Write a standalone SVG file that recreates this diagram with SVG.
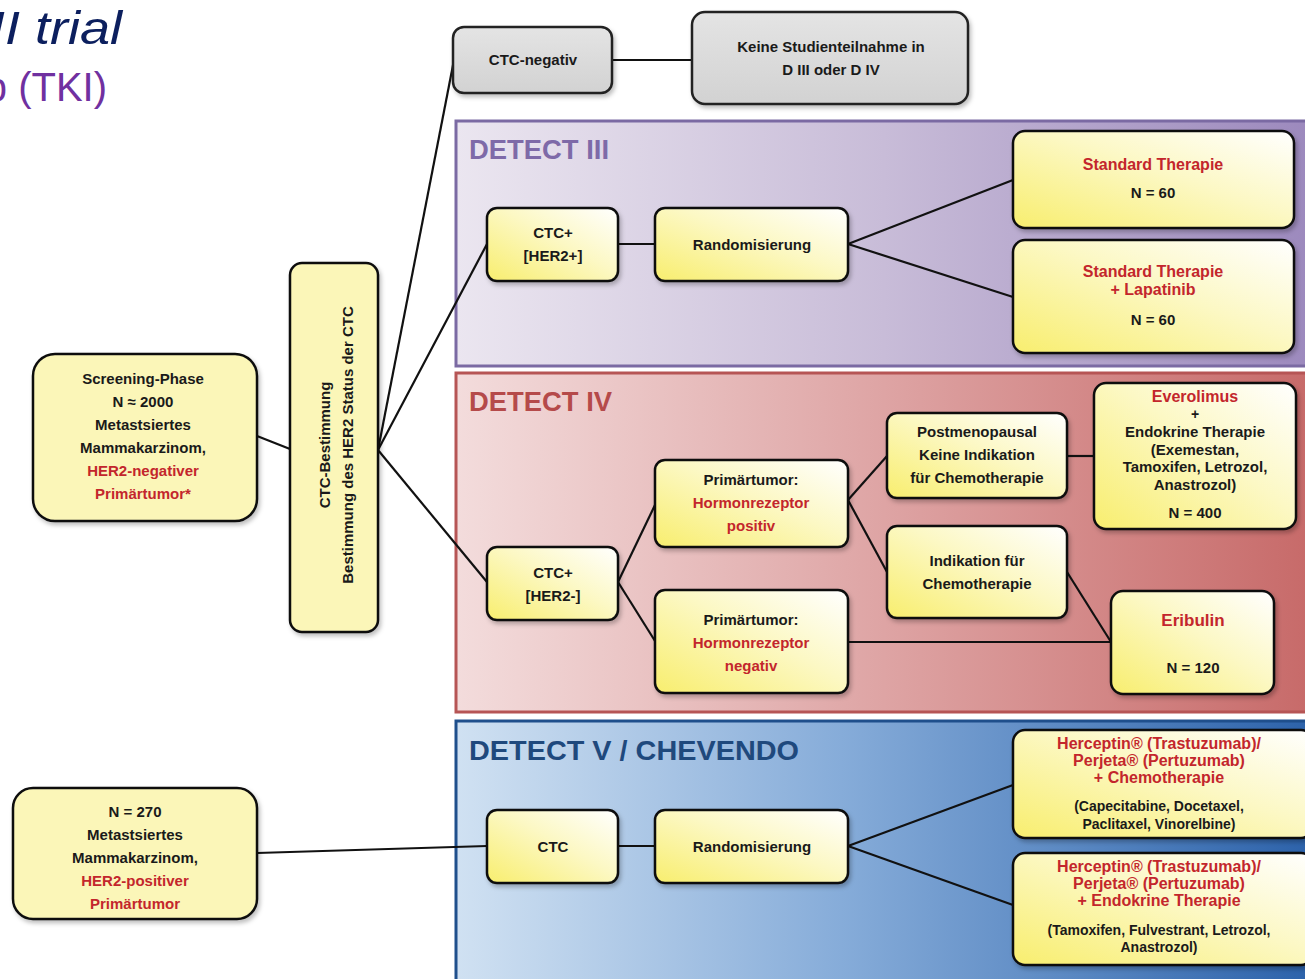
<svg xmlns="http://www.w3.org/2000/svg" width="1305" height="979" viewBox="0 0 1305 979">
<defs>
<linearGradient id="gY" x1="0" y1="1" x2="1" y2="0"><stop offset="0" stop-color="#f8ee6e"/><stop offset="0.55" stop-color="#fcf8c4"/><stop offset="1" stop-color="#ffffff"/></linearGradient>
<linearGradient id="gG" x1="0" y1="0" x2="0" y2="1"><stop offset="0" stop-color="#e4e4e4"/><stop offset="1" stop-color="#d2d2d2"/></linearGradient>
<linearGradient id="gP" x1="0" y1="0" x2="1" y2="0"><stop offset="0" stop-color="#ebe6f0"/><stop offset="0.5" stop-color="#c8bcd8"/><stop offset="1" stop-color="#9c89bd"/></linearGradient>
<linearGradient id="gR" x1="0" y1="0" x2="1" y2="0"><stop offset="0" stop-color="#f3dcdc"/><stop offset="0.5" stop-color="#dea4a4"/><stop offset="1" stop-color="#c76a69"/></linearGradient>
<linearGradient id="gB" x1="0" y1="0" x2="1" y2="0"><stop offset="0" stop-color="#d0e1f2"/><stop offset="0.45" stop-color="#86acd9"/><stop offset="1" stop-color="#2c62aa"/></linearGradient>
<filter id="sh" x="-10%" y="-10%" width="125%" height="130%"><feDropShadow dx="2" dy="3" stdDeviation="2" flood-color="#000" flood-opacity="0.25"/></filter>
</defs>
<style>
text{font-family:"Liberation Sans","Open Sans",Arial,sans-serif;font-weight:bold;font-size:15px;fill:#1a1a1a;text-anchor:middle}
.box{fill:url(#gY);stroke:#111;stroke-width:2.5;filter:url(#sh)}
.pale{fill:#fbf6b8;stroke:#111;stroke-width:2.5;filter:url(#sh)}
.gray{fill:url(#gG);stroke:#222;stroke-width:2.5;filter:url(#sh)}
.red{fill:#c3262c}
.title{font-size:28px;font-weight:bold;text-anchor:start}
.sm{font-size:14px}
.con line{stroke:#111;stroke-width:2.2;fill:none}
</style>
<rect width="1305" height="979" fill="#fff"/>
<!-- page title fragments (cut off at the left edge as in the source) -->
<text x="122" y="44" textLength="132" lengthAdjust="spacingAndGlyphs" style="font-size:46px;font-style:italic;font-weight:normal;fill:#0c1f5e;text-anchor:end">II trial</text>
<text x="107" y="101" style="font-size:40px;font-weight:normal;fill:#7030a0;text-anchor:end">Lapatinib (TKI)</text>

<!-- panels -->
<g id="panel-detect3">
<rect x="456" y="121" width="856" height="245" fill="url(#gP)" stroke="#7b6aa3" stroke-width="3"/>
<text class="title" x="469" y="159" style="fill:#7e6aa8" textLength="140" lengthAdjust="spacingAndGlyphs">DETECT III</text>
</g>
<g id="panel-detect4">
<rect x="456" y="373" width="856" height="339" fill="url(#gR)" stroke="#b65555" stroke-width="3"/>
<text class="title" x="469" y="411" style="fill:#b54a4a" textLength="143" lengthAdjust="spacingAndGlyphs">DETECT IV</text>
</g>
<g id="panel-detect5">
<rect x="456" y="721" width="856" height="270" fill="url(#gB)" stroke="#1f4f8c" stroke-width="3"/>
<text class="title" x="469" y="760" style="fill:#1f497d" textLength="330" lengthAdjust="spacingAndGlyphs">DETECT V / CHEVENDO</text>
</g>

<!-- connectors -->
<g class="con" id="connectors">
<line x1="257" y1="436" x2="290" y2="449"/>
<line x1="378" y1="450" x2="454" y2="60"/>
<line x1="378" y1="450" x2="487" y2="244"/>
<line x1="378" y1="450" x2="487" y2="582"/>
<line x1="612" y1="60" x2="692" y2="60"/>
<line x1="618" y1="244" x2="655" y2="244"/>
<line x1="848" y1="244" x2="1013" y2="180"/>
<line x1="848" y1="244" x2="1013" y2="297"/>
<line x1="618" y1="582" x2="655" y2="505"/>
<line x1="618" y1="582" x2="655" y2="641"/>
<line x1="848" y1="500" x2="887" y2="456"/>
<line x1="848" y1="500" x2="887" y2="572"/>
<line x1="1067" y1="456" x2="1094" y2="456"/>
<line x1="1067" y1="572" x2="1111" y2="642"/>
<line x1="848" y1="642" x2="1111" y2="642"/>
<line x1="257" y1="853" x2="487" y2="846"/>
<line x1="618" y1="846" x2="655" y2="846"/>
<line x1="848" y1="846" x2="1013" y2="785"/>
<line x1="848" y1="846" x2="1013" y2="905"/>
</g>

<!-- nodes -->
<g id="n-ctc-neg"><rect class="gray" x="453" y="27" width="159" height="66" rx="11"/><text x="533" y="65">CTC-negativ</text></g>
<g id="n-keine"><rect class="gray" x="692" y="12" width="276" height="92" rx="13"/><text x="831" y="52">Keine Studienteilnahme in</text><text x="831" y="75">D III  oder D IV</text></g>

<g id="n-screening"><rect class="pale" x="33" y="354" width="224" height="167" rx="22"/>
<text x="143" y="384">Screening-Phase</text><text x="143" y="407">N ≈ 2000</text><text x="143" y="430">Metastsiertes</text><text x="143" y="453">Mammakarzinom,</text><text class="red" x="143" y="476">HER2-negativer</text><text class="red" x="143" y="499">Primärtumor*</text></g>

<g id="n-ctc-best"><rect class="pale" x="290" y="263" width="88" height="369" rx="12"/>
<text transform="translate(330,445) rotate(-90)">CTC-Bestimmung</text>
<text transform="translate(353,445) rotate(-90)">Bestimmung des HER2 Status der CTC</text></g>

<g id="n-her2pos-pop"><rect class="pale" x="13" y="788" width="244" height="131" rx="20"/>
<text x="135" y="817">N = 270</text><text x="135" y="840">Metastsiertes</text><text x="135" y="863">Mammakarzinom,</text><text class="red" x="135" y="886">HER2-positiver</text><text class="red" x="135" y="909">Primärtumor</text></g>

<!-- DETECT III -->
<g id="n-ctc-her2p"><rect class="box" x="487" y="208" width="131" height="73" rx="10"/><text x="553" y="238">CTC+</text><text x="553" y="261">[HER2+]</text></g>
<g id="n-rand3"><rect class="box" x="655" y="208" width="193" height="73" rx="10"/><text x="752" y="250">Randomisierung</text></g>
<g id="n-std"><rect class="box" x="1013" y="131" width="281" height="97" rx="12"/><text class="red" x="1153" y="170" style="font-size:16px">Standard Therapie</text><text x="1153" y="198">N = 60</text></g>
<g id="n-std-lap"><rect class="box" x="1013" y="240" width="281" height="113" rx="12"/><text class="red" x="1153" y="277" style="font-size:16px">Standard Therapie</text><text class="red" x="1153" y="295" style="font-size:16px">+ Lapatinib</text><text x="1153" y="325">N = 60</text></g>

<!-- DETECT IV -->
<g id="n-ctc-her2n"><rect class="box" x="487" y="547" width="131" height="73" rx="10"/><text x="553" y="578">CTC+</text><text x="553" y="601">[HER2-]</text></g>
<g id="n-hr-pos"><rect class="box" x="655" y="460" width="193" height="87" rx="10"/><text x="751" y="485">Primärtumor:</text><text class="red" x="751" y="508">Hormonrezeptor</text><text class="red" x="751" y="531">positiv</text></g>
<g id="n-hr-neg"><rect class="box" x="655" y="590" width="193" height="103" rx="10"/><text x="751" y="625">Primärtumor:</text><text class="red" x="751" y="648">Hormonrezeptor</text><text class="red" x="751" y="671">negativ</text></g>
<g id="n-postmeno"><rect class="box" x="887" y="413" width="180" height="85" rx="10"/><text x="977" y="437">Postmenopausal</text><text x="977" y="460">Keine Indikation</text><text x="977" y="483">für Chemotherapie</text></g>
<g id="n-indik"><rect class="box" x="887" y="526" width="180" height="92" rx="10"/><text x="977" y="566">Indikation  für</text><text x="977" y="589">Chemotherapie</text></g>
<g id="n-everolimus"><rect class="box" x="1094" y="383" width="202" height="146" rx="12"/>
<text class="red" x="1195" y="402" style="font-size:16px">Everolimus</text><text x="1195" y="419" class="sm">+</text><text x="1195" y="437">Endokrine Therapie</text><text x="1195" y="455">(Exemestan,</text><text x="1195" y="472">Tamoxifen, Letrozol,</text><text x="1195" y="490">Anastrozol)</text><text x="1195" y="518">N = 400</text></g>
<g id="n-eribulin"><rect class="box" x="1111" y="591" width="163" height="103" rx="12"/><text class="red" x="1193" y="626" style="font-size:17px">Eribulin</text><text x="1193" y="673">N = 120</text></g>

<!-- DETECT V -->
<g id="n-ctc5"><rect class="box" x="487" y="810" width="131" height="73" rx="10"/><text x="553" y="852">CTC</text></g>
<g id="n-rand5"><rect class="box" x="655" y="810" width="193" height="73" rx="10"/><text x="752" y="852">Randomisierung</text></g>
<g id="n-herc-chemo"><rect class="box" x="1013" y="730" width="300" height="108" rx="12"/>
<text class="red" x="1159" y="749" style="font-size:16px">Herceptin® (Trastuzumab)/</text><text class="red" x="1159" y="766" style="font-size:16px">Perjeta® (Pertuzumab)</text><text class="red" x="1159" y="783" style="font-size:16px">+ Chemotherapie</text>
<text x="1159" y="811" class="sm">(Capecitabine, Docetaxel,</text><text x="1159" y="829" class="sm">Paclitaxel,  Vinorelbine)</text></g>
<g id="n-herc-endo"><rect class="box" x="1013" y="853" width="300" height="112" rx="12"/>
<text class="red" x="1159" y="872" style="font-size:16px">Herceptin® (Trastuzumab)/</text><text class="red" x="1159" y="889" style="font-size:16px">Perjeta® (Pertuzumab)</text><text class="red" x="1159" y="906" style="font-size:16px">+ Endokrine Therapie</text>
<text x="1159" y="935" class="sm">(Tamoxifen, Fulvestrant, Letrozol,</text><text x="1159" y="952" class="sm">Anastrozol)</text></g>
</svg>
